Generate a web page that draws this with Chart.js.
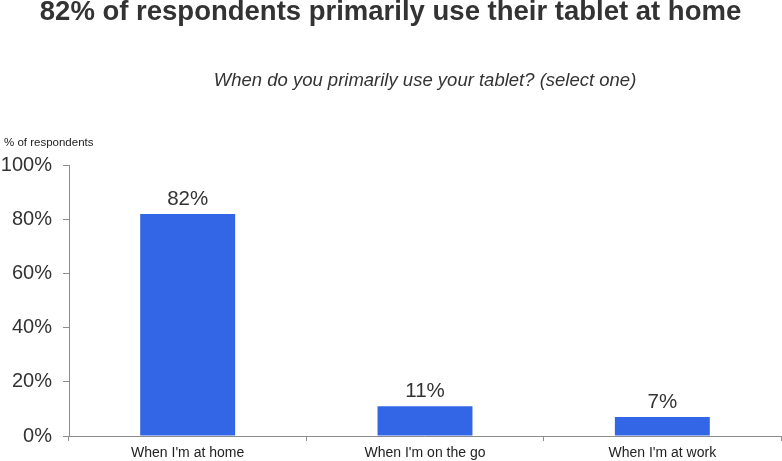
<!DOCTYPE html>
<html>
<head>
<meta charset="utf-8">
<script src="https://cdn.jsdelivr.net/npm/chart.js@4"></script>
<style>
  html, body { margin: 0; padding: 0; background: #fff; }
  #wrap { width: 782px; height: 461px; }
</style>
</head>
<body>
<div id="wrap"><canvas id="tabletChart" width="782" height="461"></canvas></div>
<script>
// datos del grafico
const categories = ["When I'm at home", "When I'm on the go", "When I'm at work"];
const shares = [82, 11, 7];
const yTicks = [0, 20, 40, 60, 80, 100];

const FONT = "'Liberation Sans', Arial, sans-serif";
const AXIS_GRAY = '#8c8c8c';

// etiquetas de valor encima de cada barra
const barLabels = {
    id: 'barLabels',
    afterDatasetsDraw(chart) {
        const ctx = chart.ctx;
        const meta = chart.getDatasetMeta(0);
        ctx.save();
        ctx.font = `20.5px ${FONT}`;
        ctx.fillStyle = '#333';
        ctx.textAlign = 'center';
        ctx.textBaseline = 'alphabetic';
        meta.data.forEach((bar, i) => {
            ctx.fillText(shares[i] + '%', bar.x, bar.y - 9);
        });
        ctx.restore();
    }
};

// titulo del eje y arriba a la izquierda
const axisCaption = {
    id: 'axisCaption',
    afterDraw(chart) {
        const ctx = chart.ctx;
        ctx.save();
        ctx.font = `11.5px ${FONT}`;
        ctx.fillStyle = '#222';
        ctx.textAlign = 'left';
        ctx.textBaseline = 'middle';
        ctx.fillText('% of respondents', 4, chart.chartArea.top - 22);
        ctx.restore();
    }
};

new Chart(document.getElementById('tabletChart'), {
    type: 'bar',
    data: {
        labels: categories,
        datasets: [{
            data: shares,
            backgroundColor: '#3366e6',
            borderWidth: 0,
            barPercentage: 0.4,
            categoryPercentage: 1
        }]
    },
    options: {
        responsive: false,
        animation: false,
        layout: { padding: { left: 0, right: 1, top: 0, bottom: 0 } },
        plugins: {
            legend: { display: false },
            tooltip: { enabled: false },
            title: {
                display: true,
                text: '82% of respondents primarily use their tablet at home',
                color: '#333',
                font: { family: FONT, size: 27.5, weight: 'bold', lineHeight: 0.87 },
                padding: { top: 0, bottom: 46 }
            },
            subtitle: {
                display: true,
                fullSize: false,
                text: 'When do you primarily use your tablet? (select one)',
                color: '#333',
                font: { family: FONT, size: 18.5, style: 'italic' },
                padding: { top: 0, bottom: 73 }
            }
        },
        scales: {
            x: {
                offset: true,
                border: { display: true, color: AXIS_GRAY, width: 1 },
                grid: { display: true, offset: true, drawOnChartArea: false, drawTicks: true, tickLength: 5, color: AXIS_GRAY },
                ticks: { color: '#222', font: { family: FONT, size: 14 }, padding: 4, maxRotation: 0 },
                afterFit: (scale) => { scale.height = 25; }
            },
            y: {
                min: 0,
                max: 100,
                afterBuildTicks: (scale) => { scale.ticks = yTicks.map(v => ({ value: v })); },
                border: { display: true, color: AXIS_GRAY, width: 1 },
                grid: { display: true, drawOnChartArea: false, drawTicks: true, tickLength: 6, color: AXIS_GRAY },
                ticks: {
                    color: '#333',
                    font: { family: FONT, size: 20 },
                    padding: 11,
                    callback: (v) => v + '%'
                },
                afterFit: (scale) => { scale.width = 69; }
            }
        }
    },
    plugins: [barLabels, axisCaption]
});
</script>
</body>
</html>
